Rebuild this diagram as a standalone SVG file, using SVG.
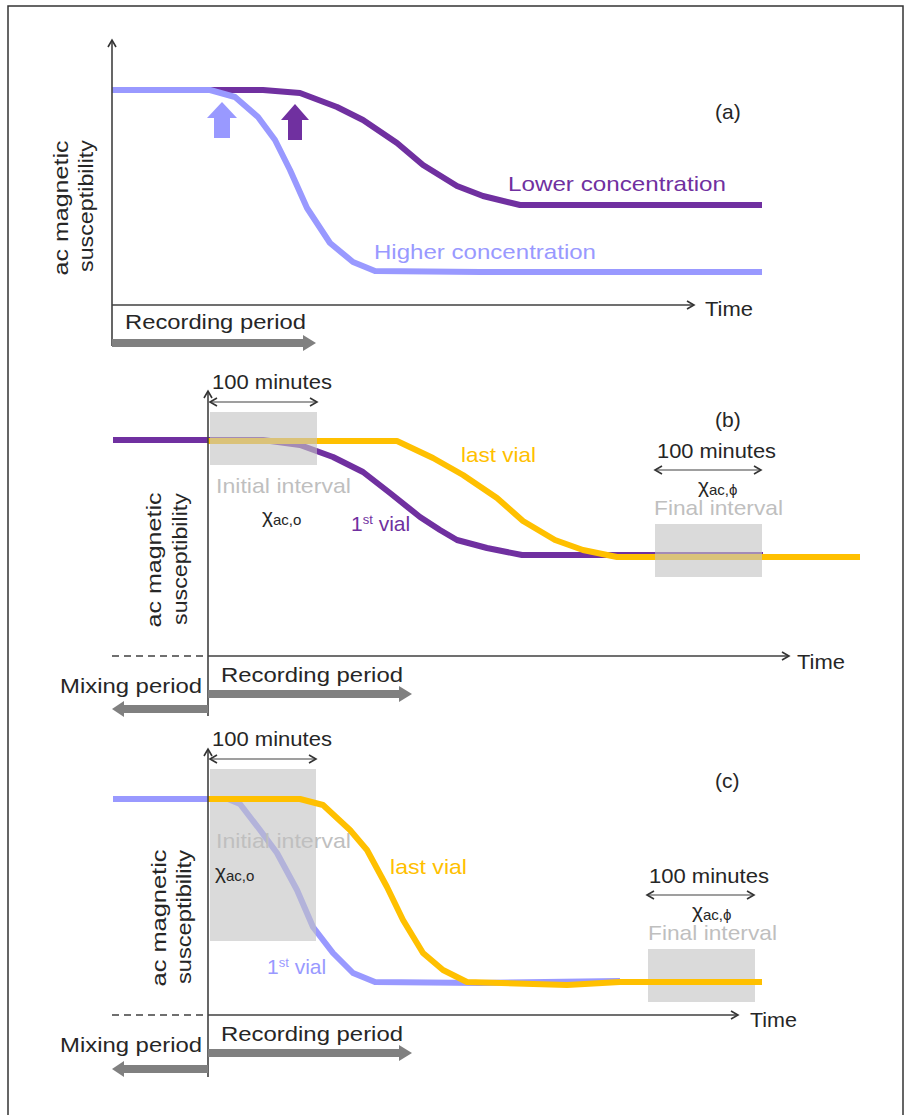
<svg xmlns="http://www.w3.org/2000/svg" width="909" height="1115" viewBox="0 0 909 1115">
<defs>
<marker id="ah" markerUnits="userSpaceOnUse" markerWidth="12" markerHeight="12" refX="9" refY="5" orient="auto-start-reverse" viewBox="0 0 12 10">
<path d="M2,1 L9,5 L2,9" fill="none" stroke="#333" stroke-width="1.6" stroke-linejoin="miter"/>
</marker>
<style>
text{font-family:"Liberation Sans",Arial,sans-serif;font-size:21px;fill:#262626}
.axis{stroke:#404040;stroke-width:1.6;fill:none}
.ax{marker-end:url(#ah)}
.dbl{stroke:#404040;stroke-width:1.2;fill:none;marker-start:url(#ah);marker-end:url(#ah)}
.dash{stroke:#404040;stroke-width:1.4;stroke-dasharray:7 5;fill:none}
.garrow{fill:#808080}
.curve{fill:none;stroke-width:6;stroke-linejoin:round;stroke-linecap:butt}
.purple{stroke:#7030A0}
.blue{stroke:#9999FF}
.yellow{stroke:#FFC000}
.win{fill:#C4C4C4;fill-opacity:0.62}
.gt{fill:#BFBFBF}
.pt{fill:#7030A0}
.bt{fill:#9999FF}
.yt{fill:#FFC000}
.sub{font-size:15px}
.sup{font-size:13px}
</style>
</defs>
<path d="M8,1116 L8,6 L903,6 L903,1116" fill="none" stroke="#333" stroke-width="1.5"/>

<g id="panel-a">
<g id="a-curves">
<path class="curve purple" d="M112,90 L263,90 L300,93 L337,107 L363,120 L397,143 L423,165 L457,186 L483,196 L520,205 L762,205"/>
<path class="curve blue" d="M112,90 L210,90 L235,97 L258,117 L275,140 L290,170 L307,208 L330,243 L353,262 L375,271 L480,272 L762,272"/>
</g>
<g id="a-markers">
<polygon points="222,102 237,118 230,118 230,138 214,138 214,118 207,118" fill="#9999FF"/>
<polygon points="295,104 309,120 302,120 302,140 288,140 288,120 281,120" fill="#7030A0"/>
</g>
<g id="a-axes">
<line class="axis ax" x1="112" y1="346" x2="112" y2="40"/>
<line class="axis ax" x1="112" y1="305" x2="694" y2="305"/>
<polygon class="garrow" points="112,339 303,339 303,335 316,343 303,351 303,347 112,347"/>
</g>
<g id="a-labels">
<text x="715" y="119" font-size="20">(a)</text>
<text x="508" y="191" class="pt" textLength="218" lengthAdjust="spacingAndGlyphs">Lower concentration</text>
<text x="374" y="259" class="bt" textLength="222" lengthAdjust="spacingAndGlyphs">Higher concentration</text>
<text x="705" y="316" textLength="48" lengthAdjust="spacingAndGlyphs">Time</text>
<text x="125" y="329" textLength="181" lengthAdjust="spacingAndGlyphs">Recording period</text>
<text transform="translate(68,208) rotate(-90)" text-anchor="middle" textLength="135" lengthAdjust="spacingAndGlyphs">ac magnetic</text>
<text transform="translate(93,206) rotate(-90)" text-anchor="middle" textLength="132" lengthAdjust="spacingAndGlyphs">susceptibility</text>
</g>
</g>

<g id="panel-b">
<g id="b-curves">
<path class="curve purple" d="M113,440 L263,440 L300,445 L333,457 L363,472 L390,493 L420,517 L440,530 L457,540 L487,548 L522,555 L763,555"/>
<path class="curve yellow" d="M208,441 L397,441 L433,458 L463,475 L497,498 L523,521 L555,540 L583,550 L617,557 L860,557"/>
</g>
<g id="b-initial">
<rect class="win" x="210" y="412" width="107" height="53"/>
<line class="dbl" x1="210" y1="402" x2="317" y2="402"/>
<text x="212" y="389" textLength="120" lengthAdjust="spacingAndGlyphs">100 minutes</text>
<text x="216" y="493" class="gt" textLength="135" lengthAdjust="spacingAndGlyphs">Initial interval</text>
<text x="262" y="523">χ<tspan class="sub" dy="2">ac,o</tspan></text>
</g>
<g id="b-final">
<rect class="win" x="655" y="524" width="107" height="53"/>
<line class="dbl" x1="655" y1="470" x2="761" y2="470"/>
<text x="657" y="458" textLength="119" lengthAdjust="spacingAndGlyphs">100 minutes</text>
<text x="698" y="493">χ<tspan class="sub" dy="2">ac,ϕ</tspan></text>
<text x="654" y="515" class="gt" textLength="129" lengthAdjust="spacingAndGlyphs">Final interval</text>
</g>
<g id="b-axes">
<line class="axis ax" x1="208" y1="716" x2="208" y2="391"/>
<line class="axis ax" x1="208" y1="656" x2="789" y2="656"/>
<line class="dash" x1="112" y1="656" x2="207" y2="656"/>
<polygon class="garrow" points="208,690 399,690 399,686 412,694 399,702 399,698 208,698"/>
<polygon class="garrow" points="208,705 124,705 124,701 112,709 124,717 124,713 208,713"/>
</g>
<g id="b-labels">
<text x="715" y="427" font-size="20">(b)</text>
<text x="461" y="462" class="yt" textLength="75" lengthAdjust="spacingAndGlyphs">last vial</text>
<text x="351" y="531" class="pt">1<tspan class="sup" dy="-7">st</tspan><tspan dy="7"> vial</tspan></text>
<text x="797" y="669" textLength="48" lengthAdjust="spacingAndGlyphs">Time</text>
<text x="221" y="682" textLength="182" lengthAdjust="spacingAndGlyphs">Recording period</text>
<text x="202" y="693" text-anchor="end" textLength="142" lengthAdjust="spacingAndGlyphs">Mixing period</text>
<text transform="translate(161,560) rotate(-90)" text-anchor="middle" textLength="135" lengthAdjust="spacingAndGlyphs">ac magnetic</text>
<text transform="translate(187,559) rotate(-90)" text-anchor="middle" textLength="132" lengthAdjust="spacingAndGlyphs">susceptibility</text>
</g>
</g>

<g id="panel-c">
<g id="c-blue">
<path class="curve blue" d="M113,799 L228,799 L240,804 L260,830 L277,853 L297,890 L313,927 L333,953 L353,973 L375,982 L480,983 L620,981"/>
</g>
<g id="c-initial">
<rect class="win" x="210" y="769" width="106" height="172"/>
<line class="dbl" x1="210" y1="759" x2="316" y2="759"/>
<text x="212" y="746" textLength="120" lengthAdjust="spacingAndGlyphs">100 minutes</text>
<text x="216" y="848" class="gt" textLength="135" lengthAdjust="spacingAndGlyphs">Initial interval</text>
<text x="215" y="879">χ<tspan class="sub" dy="2">ac,o</tspan></text>
</g>
<g id="c-final">
<rect class="win" x="648" y="949" width="107" height="53"/>
<line class="dbl" x1="647" y1="895" x2="754" y2="895"/>
<text x="649" y="883" textLength="120" lengthAdjust="spacingAndGlyphs">100 minutes</text>
<text x="692" y="918">χ<tspan class="sub" dy="2">ac,ϕ</tspan></text>
<text x="648" y="940" class="gt" textLength="129" lengthAdjust="spacingAndGlyphs">Final interval</text>
</g>
<g id="c-yellow">
<path class="curve yellow" d="M208,799 L300,799 L323,805 L350,830 L367,850 L387,887 L403,920 L423,953 L443,970 L467,982 L567,985 L620,982 L762,982"/>
</g>
<g id="c-axes">
<line class="axis ax" x1="208" y1="1077" x2="208" y2="749"/>
<line class="axis ax" x1="208" y1="1015" x2="738" y2="1015"/>
<line class="dash" x1="112" y1="1015" x2="207" y2="1015"/>
<polygon class="garrow" points="208,1049 399,1049 399,1045 412,1053 399,1061 399,1057 208,1057"/>
<polygon class="garrow" points="208,1065 124,1065 124,1061 112,1069 124,1077 124,1073 208,1073"/>
</g>
<g id="c-labels">
<text x="715" y="788" font-size="20">(c)</text>
<text x="390" y="874" class="yt" textLength="77" lengthAdjust="spacingAndGlyphs">last vial</text>
<text x="267" y="974" class="bt">1<tspan class="sup" dy="-7">st</tspan><tspan dy="7"> vial</tspan></text>
<text x="750" y="1027" textLength="47" lengthAdjust="spacingAndGlyphs">Time</text>
<text x="221" y="1041" textLength="182" lengthAdjust="spacingAndGlyphs">Recording period</text>
<text x="202" y="1052" text-anchor="end" textLength="142" lengthAdjust="spacingAndGlyphs">Mixing period</text>
<text transform="translate(166,918) rotate(-90)" text-anchor="middle" textLength="137" lengthAdjust="spacingAndGlyphs">ac magnetic</text>
<text transform="translate(191,917) rotate(-90)" text-anchor="middle" textLength="134" lengthAdjust="spacingAndGlyphs">susceptibility</text>
</g>
</g>
</svg>
